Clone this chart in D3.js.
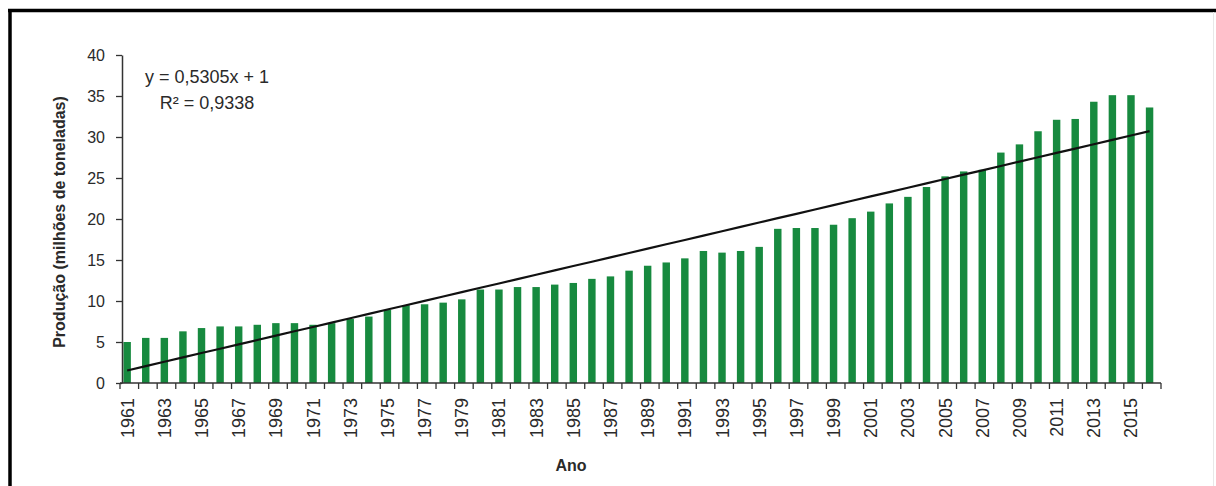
<!DOCTYPE html>
<html>
<head>
<meta charset="utf-8">
<script src="https://cdn.jsdelivr.net/npm/d3@7/dist/d3.min.js"></script>
<style>
  html, body { margin: 0; padding: 0; background: #fff; }
  svg { display: block; font-family: "Liberation Sans", Arial, sans-serif; }
</style>
</head>
<body>
<svg id="chart" width="1216" height="486"></svg>
<script>
// Produção anual (milhões de toneladas), 1961–2016
const years = d3.range(1961, 2017);
const production = [
  5.0, 5.5, 5.5, 6.3, 6.7, 6.9, 6.9, 7.1, 7.3, 7.3,
  7.1, 7.3, 7.8, 8.1, 8.9, 9.5, 9.6, 9.8, 10.2, 11.4,
  11.4, 11.7, 11.7, 12.0, 12.2, 12.7, 13.0, 13.7, 14.3, 14.7,
  15.2, 16.1, 15.9, 16.1, 16.6, 18.8, 18.9, 18.9, 19.3, 20.1,
  20.9, 21.9, 22.7, 23.9, 25.2, 25.8, 26.0, 28.1, 29.1, 30.7,
  32.1, 32.2, 34.3, 35.1, 35.1, 33.6
];
const yTicks = [0, 5, 10, 15, 20, 25, 30, 35, 40];
const labelYears = years.filter(y => (y - 1961) % 2 === 0);

// Linear trend: y = 0,5305x + 1, x = 1 .. n
const trendSlope = 0.5305;
const trendIntercept = 1;
const trendText = ["y = 0,5305x + 1", "R² = 0,9338"];

const svg = d3.select("#chart");

// Frame
svg.append("line").attr("x1", 8).attr("x2", 1216).attr("y1", 10.5).attr("y2", 10.5)
  .attr("stroke", "#000").attr("stroke-width", 3.5);
svg.append("line").attr("x1", 10).attr("x2", 10).attr("y1", 9).attr("y2", 486)
  .attr("stroke", "#000").attr("stroke-width", 3.5);
svg.append("line").attr("x1", 1213.5).attr("x2", 1213.5).attr("y1", 12).attr("y2", 486)
  .attr("stroke", "#e8e8e8").attr("stroke-width", 1);

const x = d3.scaleBand().domain(years).range([120, 1161]).padding(0);
const y = d3.scaleLinear().domain([0, 40]).range([383, 55]);
const step = x.step();
const barW = step * 0.4;
const barOffset = step * 0.185;
const barCenter = d => x(d) + barOffset + barW / 2;

// Bars
svg.append("g")
  .selectAll("rect")
  .data(years)
  .join("rect")
  .attr("x", d => x(d) + barOffset)
  .attr("width", barW)
  .attr("y", (d, i) => y(production[i]))
  .attr("height", (d, i) => y(0) - y(production[i]))
  .attr("fill", "#178a3f");

// Trend line
const trend = years.map((yr, i) => [barCenter(yr), y(trendSlope * (i + 1) + trendIntercept)]);
svg.append("path")
  .attr("d", d3.line()(trend))
  .attr("fill", "none")
  .attr("stroke", "#111")
  .attr("stroke-width", 2.2);

// Y axis
const yAxis = svg.append("g")
  .attr("transform", "translate(122,0)")
  .call(d3.axisLeft(y).tickValues(yTicks).tickSize(6).tickPadding(11).tickSizeOuter(0));
yAxis.select(".domain").attr("stroke", "#333").attr("stroke-width", 1.5);
yAxis.selectAll(".tick line").attr("stroke", "#333").attr("stroke-width", 1.3);
yAxis.selectAll(".tick text")
  .attr("font-size", 16).attr("fill", "#2a2a2a")
  .attr("font-family", "'Liberation Sans', Arial, sans-serif");

// X axis: tick marks at every category boundary
const xg = svg.append("g").attr("transform", "translate(0,383)");
xg.append("line").attr("x1", 120).attr("x2", 1161).attr("y1", 0).attr("y2", 0)
  .attr("stroke", "#333").attr("stroke-width", 1.5);
xg.selectAll("line.tick")
  .data(years.concat([2017]))
  .join("line")
  .attr("class", "tick")
  .attr("x1", d => (d === 2017 ? 1161 : x(d)))
  .attr("x2", d => (d === 2017 ? 1161 : x(d)))
  .attr("y1", 0).attr("y2", 6)
  .attr("stroke", "#333").attr("stroke-width", 1.3);
xg.selectAll("text")
  .data(labelYears)
  .join("text")
  .attr("transform", d => `translate(${barCenter(d) + 6.5},15) rotate(-90)`)
  .attr("text-anchor", "end")
  .attr("font-size", 18)
  .attr("fill", "#2a2a2a")
  .text(d => d);

// Axis titles
svg.append("text")
  .attr("transform", "translate(65,222) rotate(-90)")
  .attr("text-anchor", "middle")
  .attr("font-size", 16).attr("font-weight", "bold").attr("fill", "#2a2a2a")
  .text("Produção (milhões de toneladas)");
svg.append("text")
  .attr("x", 571).attr("y", 471)
  .attr("text-anchor", "middle")
  .attr("font-size", 16).attr("font-weight", "bold").attr("fill", "#2a2a2a")
  .text("Ano");

// Trend equation
svg.append("g").selectAll("text")
  .data(trendText)
  .join("text")
  .attr("x", 207)
  .attr("y", (d, i) => 83 + i * 26)
  .attr("text-anchor", "middle")
  .attr("font-size", 18).attr("fill", "#2a2a2a")
  .text(d => d);
</script>
</body>
</html>
